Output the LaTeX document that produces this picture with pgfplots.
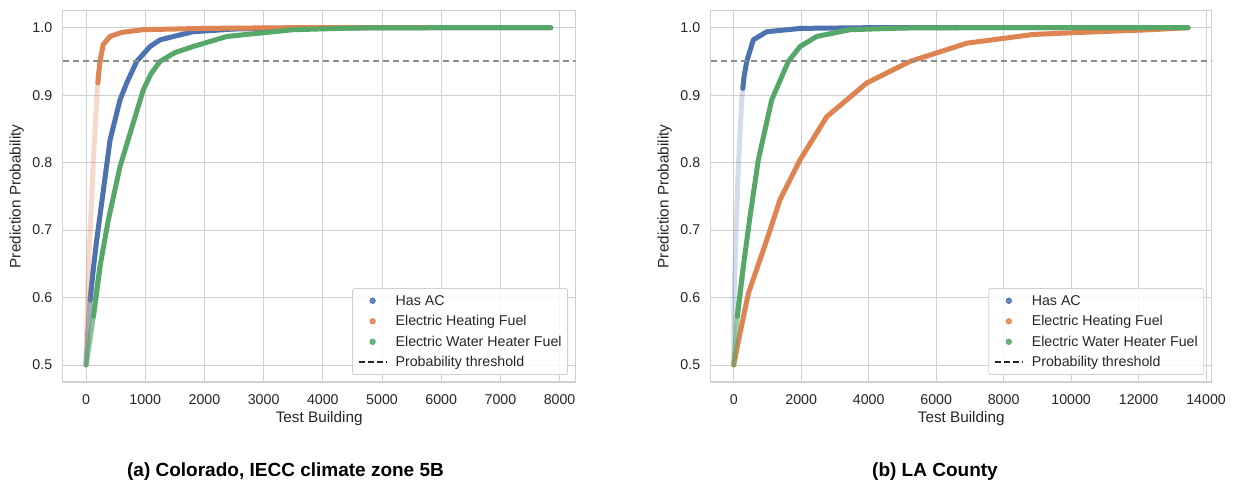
\documentclass[border=0pt]{standalone}
\usepackage{pgfplots}
\pgfplotsset{compat=1.18}
\usepackage{fontspec}
\setmainfont{Liberation Sans}
\definecolor{cblue}{HTML}{4C72B0}
\definecolor{corange}{HTML}{DD8452}
\definecolor{cgreen}{HTML}{55A868}
\definecolor{gridc}{HTML}{D0D0D0}
\definecolor{txt}{HTML}{262626}
\pgfplotsset{
  myaxis/.style={
    scale only axis, height=371.3pt,
    ymin=0.4748, ymax=1.0252,
    ytick={0.5,0.6,0.7,0.8,0.9,1.0},
    yticklabel style={/pgf/number format/fixed, /pgf/number format/fixed zerofill, /pgf/number format/precision=1, xshift=-7pt},
    /pgf/number format/assume math mode=true,
    /pgf/number format/1000 sep={},
    scaled x ticks=false,
    major tick length=0pt,
    grid=major,
    grid style={gridc, line width=1pt},
    axis line style={gridc, line width=1.3pt},
    tick label style={font=\fontsize{14.2}{17}\selectfont, text=txt},
    label style={font=\fontsize{15.3}{18}\selectfont, text=txt},
    xlabel={Test Building},
    ylabel={Prediction Probability},
    xlabel style={at={(axis description cs:0.5,0)}, anchor=center, yshift=-37pt},
    ylabel style={at={(axis description cs:0,0.5)}, anchor=center, yshift=46pt},
    xticklabel style={yshift=-9pt},
    legend cell align=left,
    legend style={draw=gridc, line width=0.8pt, rounded corners=2pt, fill=white, fill opacity=0.85, text opacity=1,
      font=\fontsize{14.2}{17}\selectfont, text=txt, column sep=7pt, inner xsep=5pt, inner ysep=2pt,
      nodes={inner xsep=1pt, inner ysep=1.5pt, text height=13pt, text depth=4.5pt}, anchor=south east},
  },
  curve/.style={line width=5pt, line cap=round, line join=round, forget plot},
  dotimg/.style={legend image code/.code={\fill[#1] (14pt,0pt) circle (2.7pt);}},
  dashimg/.style={legend image code/.code={\draw[line width=2pt, color=txt, dash pattern=on 6pt off 3pt] (0pt,0pt) -- (28pt,0pt);}},
}
\begin{document}
\begin{tikzpicture}
\useasboundingbox (0,0) rectangle (1234pt,485pt);
% ---------------- Left: Colorado
\begin{axis}[myaxis, at={(62.7pt,103pt)}, anchor=south west, width=513pt,
  xmin=-394, xmax=8272, xtick={0,1000,2000,3000,4000,5000,6000,7000,8000},
  legend style={at={(0.985,0.019)}}]
\addlegendimage{dotimg=cblue}\addlegendentry{Has AC}
\addlegendimage{dotimg=corange}\addlegendentry{Electric Heating Fuel}
\addlegendimage{dotimg=cgreen}\addlegendentry{Electric Water Heater Fuel}
\addlegendimage{dashimg}\addlegendentry{Probability threshold}
% Has AC
\addplot[curve, cblue, opacity=0.55] coordinates {(0,0.5) (30,0.55) (68,0.596) (120,0.64)};
\addplot[curve, cblue] coordinates {(68,0.596) (120,0.64) (180,0.685) (293,0.759) (405,0.833) (574,0.893) (687,0.918) (856,0.95) (1081,0.972) (1250,0.982) (1807,0.994) (2500,0.998) (3500,0.9995) (5000,1.0) (7850,1.0)};
% Electric Heating Fuel
\addplot[curve, corange, opacity=0.3] coordinates {(0,0.5) (11,0.552) (40,0.646) (96,0.745) (124,0.804) (165,0.868) (185,0.903) (210,0.93)};
\addplot[curve, corange] coordinates {(200,0.918) (210,0.93) (236,0.95) (290,0.975) (405,0.987) (600,0.993) (963,0.997) (2000,0.999) (3500,1.0) (7850,1.0)};
% Electric Water Heater Fuel
\addplot[curve, cgreen, opacity=0.7] coordinates {(0,0.5) (124,0.572) (236,0.646)};
\addplot[curve, cgreen] coordinates {(124,0.572) (236,0.646) (377,0.715) (574,0.794) (743,0.843) (968,0.908) (1100,0.932) (1250,0.95) (1500,0.963) (1807,0.972) (2376,0.987) (3500,0.997) (4500,0.9995) (6000,1.0) (7850,1.0)};
\addplot[forget plot, color=black!45, line width=2pt, dash pattern=on 6.5pt off 3.5pt] coordinates {(-394,0.95) (8272,0.95)};
\end{axis}
% ---------------- Right: LA County
\begin{axis}[myaxis, at={(710.7pt,103pt)}, anchor=south west, width=501pt,
  xmin=-682, xmax=14167, xtick={0,2000,4000,6000,8000,10000,12000,14000},
  legend style={at={(0.985,0.019)}}]
\addlegendimage{dotimg=cblue}\addlegendentry{Has AC}
\addlegendimage{dotimg=corange}\addlegendentry{Electric Heating Fuel}
\addlegendimage{dotimg=cgreen}\addlegendentry{Electric Water Heater Fuel}
\addlegendimage{dashimg}\addlegendentry{Probability threshold}
% Has AC
\addplot[curve, cblue, opacity=0.25] coordinates {(0,0.5) (9,0.596) (68,0.695) (136,0.794) (237,0.893) (300,0.925)};
\addplot[curve, cblue] coordinates {(270,0.91) (300,0.925) (385,0.95) (581,0.982) (978,0.994) (2000,0.999) (4000,1.0) (13465,1.0)};
% Electric Heating Fuel
\addplot[curve, corange] coordinates {(0,0.5) (187,0.547) (433,0.606) (978,0.685) (1372,0.745) (1965,0.804) (2756,0.868) (3942,0.918) (5225,0.95) (6906,0.977) (8880,0.99) (10270,0.993) (12350,0.997) (13465,1.0)};
% Electric Water Heater Fuel
\addplot[curve, cgreen, opacity=0.55] coordinates {(0,0.5) (107,0.572) (285,0.646)};
\addplot[curve, cgreen] coordinates {(107,0.572) (285,0.646) (483,0.72) (729,0.804) (1126,0.893) (1619,0.95) (1965,0.972) (2460,0.987) (3447,0.997) (5000,0.9995) (7000,1.0) (13465,1.0)};
\addplot[forget plot, color=black!45, line width=2pt, dash pattern=on 6.5pt off 3.5pt] coordinates {(-682,0.95) (14167,0.95)};
\end{axis}
\node[font=\fontsize{19}{22}\selectfont\bfseries, text=black] at (285.5pt,13pt) {(a) Colorado, IECC climate zone 5B};
\node[font=\fontsize{19}{22}\selectfont\bfseries, text=black] at (935pt,13pt) {(b) LA County};
\end{tikzpicture}
\end{document}
